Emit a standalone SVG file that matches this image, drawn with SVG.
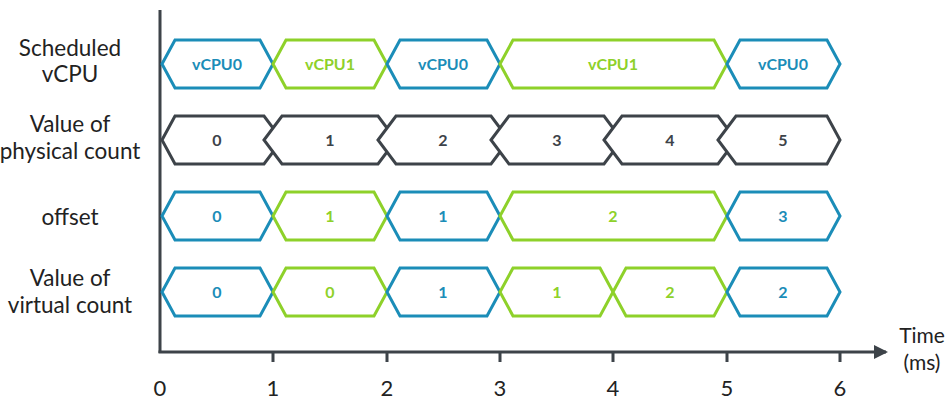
<svg xmlns="http://www.w3.org/2000/svg" width="946" height="404" viewBox="0 0 946 404">
<style>
.h{fill:#fff;stroke-width:3;stroke-linejoin:miter}
.b{stroke:#1b8db8}.g{stroke:#8ed12a}.k{stroke:#3d4349}
.t{font-family:Lato,"Liberation Sans",sans-serif;font-weight:bold;font-size:16px;text-anchor:middle}
.tb{fill:#1b8db8}.tg{fill:#8ed12a}.tk{fill:#3d4349}
.l{font-family:Lato,"Liberation Sans",sans-serif;font-size:22.5px;fill:#222;text-anchor:middle}
.ax{font-family:Lato,"Liberation Sans",sans-serif;font-size:22px;fill:#222;text-anchor:middle}
.a{stroke:#3d4349;stroke-width:3;fill:none}
</style>
<defs><marker id="arr" markerWidth="14" markerHeight="14" refX="12" refY="7" orient="auto" markerUnits="userSpaceOnUse"><path d="M0,0 L14,7 L0,14 z" fill="#3d4349"/></marker></defs>
<g id="labels">
<text class="l" x="70" y="56">Scheduled</text><text class="l" x="70" y="82">vCPU</text>
<text class="l" x="70" y="132">Value of</text><text class="l" x="70" y="159">physical count</text>
<text class="l" x="70" y="225">offset</text>
<text class="l" x="70" y="286">Value of</text><text class="l" x="70" y="313">virtual count</text>
</g>
<g id="connectors">
<line class="a" x1="160" y1="10" x2="160" y2="353"/>
<line class="a" x1="158.5" y1="352" x2="886" y2="352" marker-end="url(#arr)"/>
<path class="a" d="M273,352V362M387,352V362M500,352V362M613,352V362M727,352V362M840,352V362"/>
</g>
<g id="axis-labels">
<text class="ax" x="160" y="396">0</text><text class="ax" x="273" y="396">1</text><text class="ax" x="387" y="396">2</text><text class="ax" x="500" y="396">3</text><text class="ax" x="613" y="396">4</text><text class="ax" x="727" y="396">5</text><text class="ax" x="840" y="396">6</text>
<text class="l" x="922" y="343" style="font-size:21px">Time</text><text class="l" x="922" y="370" style="font-size:21px">(ms)</text>
</g>
<g id="row1">
<g id="r1a"><path class="h b" d="M162,64L175,40H260L273,64L260,88H175Z"/><text class="t tb" x="217" y="70">vCPU0</text></g>
<g id="r1b"><path class="h g" d="M273,64L286,40H374L387,64L374,88H286Z"/><text class="t tg" x="330" y="70">vCPU1</text></g>
<g id="r1c"><path class="h b" d="M387,64L400,40H487L500,64L487,88H400Z"/><text class="t tb" x="443" y="70">vCPU0</text></g>
<g id="r1d"><path class="h g" d="M500,64L513,40H714L727,64L714,88H513Z"/><text class="t tg" x="613" y="70">vCPU1</text></g>
<g id="r1e"><path class="h b" d="M727,64L740,40H827L840,64L827,88H740Z"/><text class="t tb" x="783" y="70">vCPU0</text></g>
</g>
<g id="row2">
<g id="r2a"><path class="h k" d="M162,140L175,116H264L282,140L264,164H175Z" fill="none"/><text class="t tk" x="217" y="146">0</text></g>
<g id="r2b"><path class="h k" d="M264,140L282,116H378L396,140L378,164H282Z" fill="none"/><text class="t tk" x="330" y="146">1</text></g>
<g id="r2c"><path class="h k" d="M378,140L396,116H491L509,140L491,164H396Z" fill="none"/><text class="t tk" x="443" y="146">2</text></g>
<g id="r2d"><path class="h k" d="M491,140L509,116H604L622,140L604,164H509Z" fill="none"/><text class="t tk" x="557" y="146">3</text></g>
<g id="r2e"><path class="h k" d="M604,140L622,116H718L736,140L718,164H622Z" fill="none"/><text class="t tk" x="670" y="146">4</text></g>
<g id="r2f"><path class="h k" d="M718,140L736,116H827L840,140L827,164H736Z" fill="none"/><text class="t tk" x="783" y="146">5</text></g>
</g>
<g id="row3">
<g id="r3a"><path class="h b" d="M162,216L175,192H260L273,216L260,240H175Z"/><text class="t tb" x="217" y="222">0</text></g>
<g id="r3b"><path class="h g" d="M273,216L286,192H374L387,216L374,240H286Z"/><text class="t tg" x="330" y="222">1</text></g>
<g id="r3c"><path class="h b" d="M387,216L400,192H487L500,216L487,240H400Z"/><text class="t tb" x="443" y="222">1</text></g>
<g id="r3d"><path class="h g" d="M500,216L513,192H714L727,216L714,240H513Z"/><text class="t tg" x="613" y="222">2</text></g>
<g id="r3e"><path class="h b" d="M727,216L740,192H827L840,216L827,240H740Z"/><text class="t tb" x="783" y="222">3</text></g>
</g>
<g id="row4">
<g id="r4a"><path class="h b" d="M162,292L175,268H260L273,292L260,316H175Z"/><text class="t tb" x="217" y="298">0</text></g>
<g id="r4b"><path class="h g" d="M273,292L286,268H374L387,292L374,316H286Z"/><text class="t tg" x="330" y="298">0</text></g>
<g id="r4c"><path class="h b" d="M387,292L400,268H487L500,292L487,316H400Z"/><text class="t tb" x="443" y="298">1</text></g>
<g id="r4d"><path class="h g" d="M500,292L513,268H600L613,292L600,316H513Z"/><text class="t tg" x="557" y="298">1</text></g>
<g id="r4e"><path class="h g" d="M613,292L626,268H714L727,292L714,316H626Z"/><text class="t tg" x="670" y="298">2</text></g>
<g id="r4f"><path class="h b" d="M727,292L740,268H827L840,292L827,316H740Z"/><text class="t tb" x="783" y="298">2</text></g>
</g>
</svg>
